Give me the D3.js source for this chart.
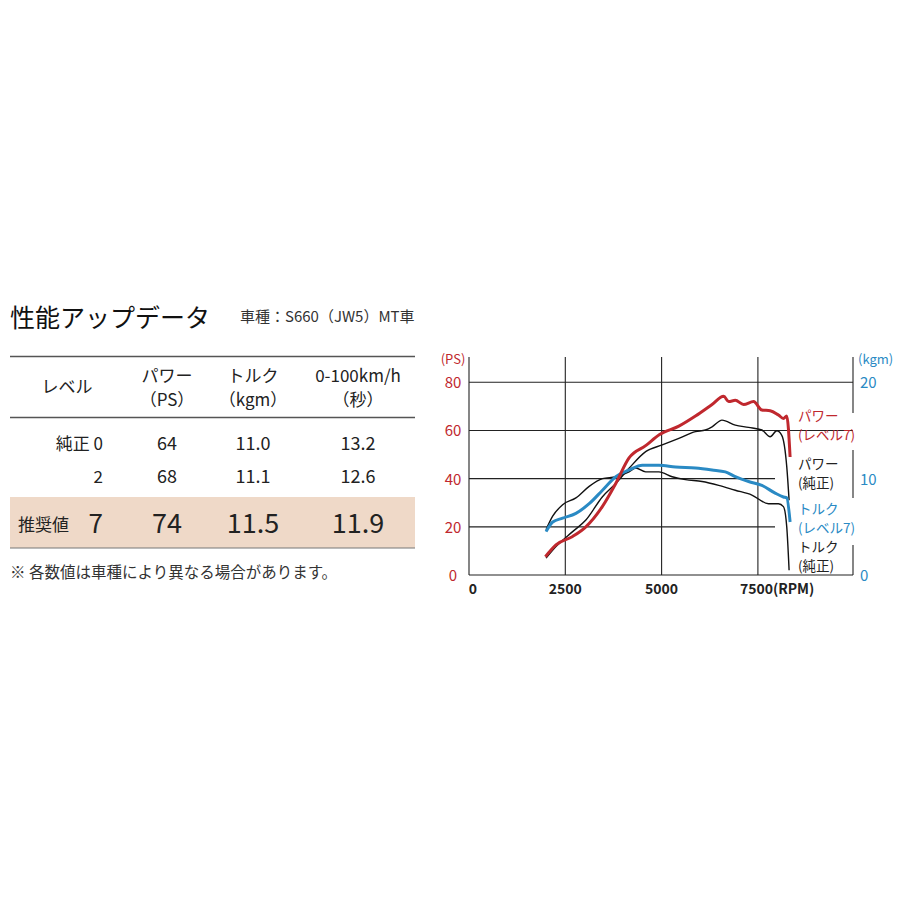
<!DOCTYPE html>
<html><head><meta charset="utf-8">
<script src="https://cdn.jsdelivr.net/npm/d3@7"></script>
<style>body{margin:0;background:#fff}text{font-family:"Noto Sans CJK JP","Noto Sans",sans-serif}</style>
</head><body>
<svg id="c" width="900" height="900"></svg>
<script>
const rpmTicks = [0, 2500, 5000, 7500];
const psTicks = [0, 20, 40, 60, 80];
const kgmTicks = [0, 10, 20];
const powerL7 = [[1983,7.6],[2258,12.5],[2690,16],[3034,20],[3465,28.5],[3810,38],[4155,48.6],[4586,53.7],[4948,58.3],[5448,61.8],[5879,66],[6310,70.8],[6612,74.2],[6741,72],[6913,72.5],[7129,70.8],[7387,72],[7603,68.5],[7818,68.2],[8034,66.4],[8163,65],[8249,66],[8336,49]];
const powerStock = [[2000,7],[2258,11.8],[2690,18],[3034,22.8],[3465,32.5],[3810,38],[4155,44.3],[4586,51.2],[5017,54],[5448,56.7],[5879,59.5],[6137,60.2],[6310,61.5],[6568,64.3],[6913,62.2],[7258,61.3],[7603,60.2],[7818,57.4],[7991,59.9],[8120,58],[8249,45],[8310,31]];
const torqueL7 = [[2000,4.5],[2172,5.5],[2431,5.9],[2776,6.4],[3120,7.4],[3465,8.8],[3810,10.2],[4155,10.9],[4500,11.4],[4931,11.4],[5362,11.2],[5879,11.1],[6310,10.9],[6655,10.7],[6913,10.2],[7258,9.7],[7603,9.3],[7948,8.5],[8163,8.1],[8249,8.0],[8336,5.5]];
const torqueStock = [[2000,4.7],[2172,6.1],[2431,7.3],[2776,8.0],[3120,9.2],[3465,10.0],[3810,10.2],[4155,10.7],[4327,11.1],[4586,10.7],[4931,10.7],[5275,10.2],[5620,9.9],[6051,9.7],[6482,9.3],[6913,8.8],[7344,8.3],[7775,7.4],[8034,7.4],[8163,7.1],[8249,5],[8310,0.5]];
const tableHeaders = [["レベル"],["パワー","（PS）"],["トルク","（kgm）"],["0-100km/h","（秒）"]];
const tableRows = [["純正 0","64","11.0","13.2"],["2","68","11.1","12.6"]];
const recRow = ["7","74","11.5","11.9"];

const svg = d3.select("#c");
const RED="#c0282e", BLUE="#2a8ac4", DARK="#222";

svg.append("text").attr("x",10).attr("y",327).attr("font-size",25).attr("fill","#111").text("性能アップデータ");
svg.append("text").attr("x",240).attr("y",322).attr("font-size",15).attr("fill","#333").text("車種：S660（JW5）MT車");
svg.append("rect").attr("x",10).attr("y",497).attr("width",405).attr("height",51).attr("fill","#efd9c8");
[356.5,417.5].forEach(y=>svg.append("line").attr("x1",10).attr("x2",415).attr("y1",y).attr("y2",y).attr("stroke","#555").attr("stroke-width",1.3));
svg.append("line").attr("x1",10).attr("x2",415).attr("y1",548).attr("y2",548).attr("stroke","#777").attr("stroke-width",1);
const colX=[67,167,253,358];
tableHeaders.forEach((h,i)=>{
  if(h.length===1) svg.append("text").attr("x",colX[i]).attr("y",393).attr("text-anchor","middle").attr("font-size",17).attr("fill","#222").text(h[0]);
  else h.forEach((t,j)=>svg.append("text").attr("x",colX[i]).attr("y",382+j*24).attr("text-anchor","middle").attr("font-size",17).attr("fill","#222").text(t));
});
tableRows.forEach((r,k)=>{
  const y=450+k*33;
  svg.append("text").attr("x",103).attr("y",y).attr("text-anchor","end").attr("font-size",17).attr("fill","#222").text(r[0]);
  r.slice(1).forEach((v,i)=>svg.append("text").attr("x",colX[i+1]).attr("y",y).attr("text-anchor","middle").attr("font-size",18).attr("fill","#222").text(v));
});
svg.append("text").attr("x",18).attr("y",531).attr("font-size",17).attr("fill","#222").text("推奨値");
svg.append("text").attr("x",103).attr("y",533).attr("text-anchor","end").attr("font-size",26).attr("fill","#222").text(recRow[0]);
recRow.slice(1).forEach((v,i)=>svg.append("text").attr("x",colX[i+1]).attr("y",533).attr("text-anchor","middle").attr("font-size",27).attr("fill","#222").text(v));
svg.append("text").attr("x",10).attr("y",578).attr("font-size",15.5).attr("fill","#333").text("※ 各数値は車種により異なる場合があります。");

const x = d3.scaleLinear().domain([0,2500]).range([469,565.3]);
const yPS = d3.scaleLinear().domain([0,80]).range([575,382.3]);
const yKg = d3.scaleLinear().domain([0,20]).range([575,382.3]);
const XR = 853, TOP = 357;
const g = svg.append("g").attr("stroke","#222").attr("stroke-width",1.1);
g.append("line").attr("x1",x(0)).attr("x2",x(0)).attr("y1",TOP).attr("y2",yPS(0));
g.append("line").attr("x1",x(0)).attr("x2",XR).attr("y1",yPS(0)).attr("y2",yPS(0));
rpmTicks.slice(1).forEach(r=>g.append("line").attr("x1",x(r)).attr("x2",x(r)).attr("y1",TOP).attr("y2",yPS(0)));
psTicks.slice(1).forEach(p=>g.append("line").attr("x1",x(0)).attr("x2",p>=60?XR:775).attr("y1",yPS(p)).attr("y2",yPS(p)));
[[TOP,413],[450,498],[545,575]].forEach(s=>g.append("line").attr("x1",XR).attr("x2",XR).attr("y1",s[0]).attr("y2",s[1]));

psTicks.forEach(p=>svg.append("text").attr("x",453).attr("y",yPS(p)+6).attr("text-anchor","middle").attr("font-size",15).attr("fill",RED).text(p));
svg.append("text").attr("x",453).attr("y",364).attr("text-anchor","middle").attr("font-size",13).attr("fill",RED).text("(PS)");
kgmTicks.forEach(k=>svg.append("text").attr("x",860).attr("y",yKg(k)+6).attr("font-size",15).attr("fill",BLUE).text(k));
svg.append("text").attr("x",858).attr("y",364).attr("font-size",13).attr("fill",BLUE).text("(kgm)");
rpmTicks.forEach((r,i)=>svg.append("text").attr("x",i===0?x(r)+4:x(r)).attr("y",594).attr("text-anchor",i===3?"start":"middle").attr("dx",i===3?-18:0).attr("font-size",14).attr("font-weight","bold").attr("fill","#222").text(i===3?r+"(RPM)":r));

const lineP = d3.line().x(d=>x(d[0])).y(d=>yPS(d[1])).curve(d3.curveMonotoneX);
const lineK = d3.line().x(d=>x(d[0])).y(d=>yKg(d[1])).curve(d3.curveMonotoneX);
svg.append("path").attr("d",lineP(powerStock)).attr("fill","none").attr("stroke","#111").attr("stroke-width",1.4);
svg.append("path").attr("d",lineK(torqueStock)).attr("fill","none").attr("stroke","#111").attr("stroke-width",1.4);
svg.append("path").attr("d",lineK(torqueL7)).attr("fill","none").attr("stroke",BLUE).attr("stroke-width",3);
svg.append("path").attr("d",lineP(powerL7)).attr("fill","none").attr("stroke",RED).attr("stroke-width",3);

[["パワー",421,RED],["(レベル7)",440,RED],["パワー",469,DARK],["(純正)",488,DARK],["トルク",514,BLUE],["(レベル7)",533,BLUE],["トルク",552,DARK],["(純正)",571,DARK]]
 .forEach(l=>svg.append("text").attr("x",798).attr("y",l[1]).attr("font-size",13.5).attr("fill",l[2]).text(l[0]));
</script>
</body></html>
